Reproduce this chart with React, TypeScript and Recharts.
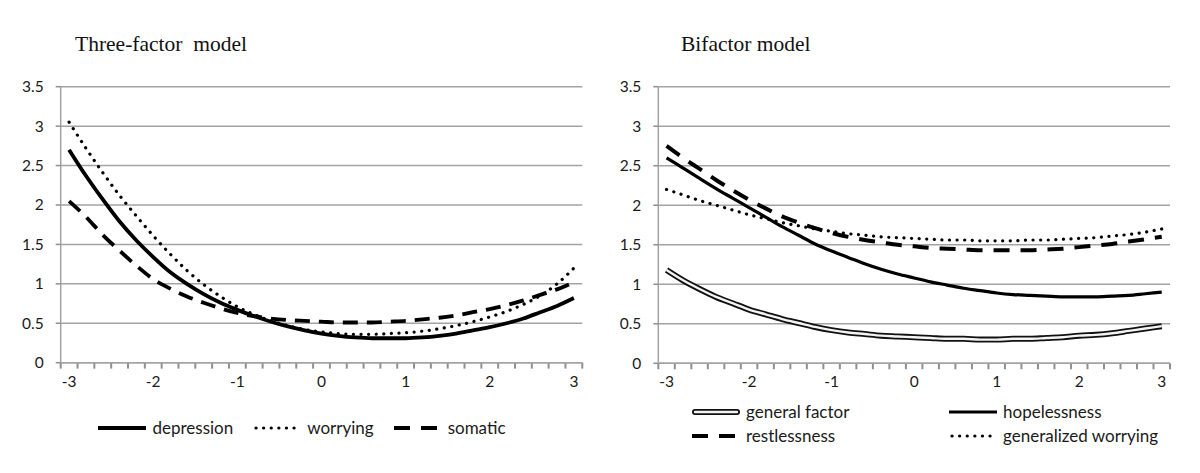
import React from "react";
import { LineChart, Line, XAxis, YAxis, CartesianGrid, Legend, ReferenceLine } from "recharts";

// theta points, one per 0.2 step (Excel category axis, 31 categories)
const thetas = [
  -3, -2.8, -2.6, -2.4, -2.2, -2, -1.8, -1.6, -1.4, -1.2, -1, -0.8, -0.6, -0.4, -0.2, 0,
  0.2, 0.4, 0.6, 0.8, 1, 1.2, 1.4, 1.6, 1.8, 2, 2.2, 2.4, 2.6, 2.8, 3,
];

// three-factor model
const depression = [
  2.7, 2.37, 2.07, 1.79, 1.55, 1.34, 1.15, 1.0, 0.87, 0.76, 0.67, 0.59, 0.52, 0.46, 0.41, 0.37,
  0.34, 0.32, 0.31, 0.31, 0.31, 0.32, 0.34, 0.37, 0.41, 0.45, 0.5, 0.56, 0.64, 0.72, 0.82,
];
const worrying = [
  3.05, 2.72, 2.41, 2.12, 1.86, 1.61, 1.38, 1.17, 0.99, 0.84, 0.71, 0.61, 0.53, 0.47, 0.42, 0.39,
  0.37, 0.36, 0.36, 0.37, 0.38, 0.4, 0.43, 0.47, 0.52, 0.58, 0.65, 0.74, 0.85, 1.0, 1.2,
];
const somatic = [
  2.05, 1.85, 1.62, 1.42, 1.23, 1.06, 0.94, 0.84, 0.76, 0.69, 0.63, 0.59, 0.56, 0.54, 0.53, 0.52,
  0.51, 0.51, 0.51, 0.52, 0.53, 0.55, 0.57, 0.6, 0.64, 0.68, 0.73, 0.79, 0.86, 0.93, 1.02,
];

// bifactor model
const generalFactor = [
  1.18, 1.05, 0.94, 0.84, 0.76, 0.68, 0.62, 0.56, 0.51, 0.46, 0.42, 0.39, 0.37, 0.35, 0.34, 0.33,
  0.32, 0.31, 0.31, 0.3, 0.3, 0.31, 0.31, 0.32, 0.33, 0.35, 0.36, 0.38, 0.41, 0.44, 0.47,
];
const hopelessness = [
  2.6, 2.47, 2.34, 2.21, 2.09, 1.97, 1.85, 1.73, 1.62, 1.51, 1.42, 1.34, 1.26, 1.19, 1.13, 1.08,
  1.03, 0.99, 0.95, 0.92, 0.89, 0.87, 0.86, 0.85, 0.84, 0.84, 0.84, 0.85, 0.86, 0.88, 0.9,
];
const restlessness = [
  2.75, 2.6, 2.46, 2.32, 2.19, 2.07, 1.96, 1.86, 1.78, 1.71, 1.65, 1.6, 1.56, 1.53, 1.5, 1.48,
  1.46, 1.45, 1.44, 1.43, 1.43, 1.43, 1.43, 1.44, 1.45, 1.47, 1.49, 1.51, 1.54, 1.57, 1.6,
];
const generalizedWorrying = [
  2.2, 2.13, 2.06, 2.0, 1.94, 1.88, 1.83, 1.78, 1.74, 1.7, 1.67, 1.64, 1.62, 1.6, 1.59, 1.58,
  1.57, 1.56, 1.56, 1.55, 1.55, 1.55, 1.56, 1.56, 1.57, 1.58, 1.59, 1.61, 1.63, 1.66, 1.7,
];

const yTicks = [0, 0.5, 1, 1.5, 2, 2.5, 3, 3.5];
// tick marks sit between categories, like Excel; labels every 5th category
const xMarkTicks = [
  -3.1, -2.9, -2.7, -2.5, -2.3, -2.1, -1.9, -1.7, -1.5, -1.3, -1.1, -0.9, -0.7, -0.5, -0.3, -0.1,
  0.1, 0.3, 0.5, 0.7, 0.9, 1.1, 1.3, 1.5, 1.7, 1.9, 2.1, 2.3, 2.5, 2.7, 2.9, 3.1,
];

const threeData = thetas.map((x, i) => ({
  x,
  depression: depression[i],
  worrying: worrying[i],
  somatic: somatic[i],
}));

const biData = thetas.map((x, i) => ({
  x,
  general: generalFactor[i],
  hopelessness: hopelessness[i],
  restlessness: restlessness[i],
  genWorrying: generalizedWorrying[i],
}));

const GRID = "#a3a3a3";
const MARK = "#8f8f8f";
const TEXT = "#1a1a1a";
const SANS = "Lato, 'Noto Sans', sans-serif";
const tickStyle = { fill: TEXT, fontSize: 15.5, fontFamily: SANS };

const DOTTED = { strokeDasharray: "0.1 7.5", strokeLinecap: "round" as const };
const DASHED = { strokeDasharray: "15 9" };

// label in the middle of every 5th category
function XTick(props: any) {
  const { x, y, payload, width } = props;
  const center = payload.value + 0.1;
  const half = width / (xMarkTicks.length - 1) / 2;
  const labelled = Math.abs(center - Math.round(center)) < 1e-6 && center < 3.05;
  if (!labelled) return <g />;
  return (
    <text x={x + half} y={y} dy="0.71em" textAnchor="middle" {...tickStyle}>
      {Math.round(center)}
    </text>
  );
}

// short marks below the axis at each category boundary
const tickMarks = () =>
  xMarkTicks.map((b) => (
    <ReferenceLine
      key={b}
      segment={[{ x: b, y: 0 }, { x: b, y: -0.075 }]}
      stroke={MARK}
      strokeWidth={2}
      ifOverflow="visible"
    />
  ));

function Sample({ kind }: { kind: string }) {
  return (
    <svg width={48} height={12} style={{ display: "block" }}>
      {kind === "double" && <line x1={3} y1={6} x2={45} y2={6} stroke="#111" strokeWidth={6} strokeLinecap="round" />}
      {kind === "double" && <line x1={3} y1={6} x2={45} y2={6} stroke="#f4f4f4" strokeWidth={2.4} strokeLinecap="round" />}
      {kind === "solid" && <line x1={0} y1={6} x2={48} y2={6} stroke="#000" strokeWidth={3.8} />}
      {kind === "solidThin" && <line x1={0} y1={6} x2={48} y2={6} stroke="#000" strokeWidth={3} />}
      {kind === "dotted" && <line x1={3} y1={6} x2={48} y2={6} stroke="#000" strokeWidth={3.2} {...DOTTED} />}
      {kind === "dashed" && <line x1={0} y1={6} x2={48} y2={6} stroke="#000" strokeWidth={4} strokeDasharray="16 11" />}
    </svg>
  );
}

function Item({ kind, label }: { kind: string; label: string }) {
  return (
    <div style={{ display: "flex", alignItems: "center", gap: 6, fontFamily: SANS, fontSize: 17, color: TEXT }}>
      <Sample kind={kind} />
      <span>{label}</span>
    </div>
  );
}

function ThreeLegend() {
  return (
    <div style={{ display: "flex", justifyContent: "center", gap: 20 }}>
      <Item kind="solid" label="depression" />
      <Item kind="dotted" label="worrying" />
      <Item kind="dashed" label="somatic" />
    </div>
  );
}

function BiLegend() {
  return (
    <div style={{ display: "grid", gridTemplateColumns: "257px 257px", rowGap: 3 }}>
      <Item kind="double" label="general factor" />
      <Item kind="solidThin" label="hopelessness" />
      <Item kind="dashed" label="restlessness" />
      <Item kind="dotted" label="generalized worrying" />
    </div>
  );
}

export default function App() {
  const titleStyle: React.CSSProperties = {
    position: "absolute",
    top: 33,
    fontFamily: "'Liberation Serif', 'Times New Roman', serif",
    fontSize: 21.5,
    lineHeight: "22px",
    color: "#111",
    whiteSpace: "pre",
  };
  return (
    <div style={{ position: "absolute", left: 0, top: 0, width: 1200, height: 473, background: "#fff", overflow: "hidden" }}>
      <div style={{ ...titleStyle, left: 75 }}>Three-factor  model</div>
      <div style={{ ...titleStyle, left: 681 }}>Bifactor model</div>

      <div style={{ position: "absolute", left: 0, top: 0 }}>
        <LineChart width={600} height={473} data={threeData} margin={{ top: 86.7, right: 17.7, bottom: 80.3, left: 10.7 }}>
          <CartesianGrid vertical={false} stroke={GRID} strokeWidth={1.5} />
          <XAxis type="number" dataKey="x" domain={[-3.1, 3.1]} ticks={xMarkTicks} interval={0}
            tick={<XTick />} tickLine={false} tickSize={5} tickMargin={8} height={30} stroke={GRID} strokeWidth={1.5} />
          <YAxis type="number" domain={[0, 3.5]} ticks={yTicks} interval={0} width={50} tickSize={5} tickMargin={12}
            stroke={GRID} strokeWidth={1.5} tickLine={{ stroke: MARK, strokeWidth: 1.5 }} tick={tickStyle} />
          {tickMarks()}
          <Line type="monotone" dataKey="depression" stroke="#000" strokeWidth={3.8} dot={false} isAnimationActive={false} />
          <Line type="monotone" dataKey="worrying" stroke="#000" strokeWidth={3.2} {...DOTTED} dot={false} isAnimationActive={false} />
          <Line type="monotone" dataKey="somatic" stroke="#000" strokeWidth={3.8} {...DASHED} dot={false} isAnimationActive={false} />
          <Legend verticalAlign="middle" align="center" layout="horizontal" wrapperStyle={{ top: 417, left: 2, width: 600 }} content={() => <ThreeLegend />} />
        </LineChart>
      </div>

      <div style={{ position: "absolute", left: 600, top: 0 }}>
        <LineChart width={600} height={473} data={biData} margin={{ top: 86.7, right: 30, bottom: 79.7, left: 8.3 }}>
          <CartesianGrid vertical={false} stroke={GRID} strokeWidth={1.5} />
          <XAxis type="number" dataKey="x" domain={[-3.1, 3.1]} ticks={xMarkTicks} interval={0}
            tick={<XTick />} tickLine={false} tickSize={5} tickMargin={8} height={30} stroke={GRID} strokeWidth={1.5} />
          <YAxis type="number" domain={[0, 3.5]} ticks={yTicks} interval={0} width={50} tickSize={5} tickMargin={12}
            stroke={GRID} strokeWidth={1.5} tickLine={{ stroke: MARK, strokeWidth: 1.5 }} tick={tickStyle} />
          {tickMarks()}
          <Line type="monotone" dataKey="general" stroke="#111" strokeWidth={6} dot={false} isAnimationActive={false} />
          <Line type="monotone" dataKey="general" stroke="#f4f4f4" strokeWidth={2.4} dot={false} legendType="none" isAnimationActive={false} />
          <Line type="monotone" dataKey="hopelessness" stroke="#000" strokeWidth={3.2} dot={false} isAnimationActive={false} />
          <Line type="monotone" dataKey="restlessness" stroke="#000" strokeWidth={4} strokeDasharray="16 11" dot={false} isAnimationActive={false} />
          <Line type="monotone" dataKey="genWorrying" stroke="#000" strokeWidth={3.2} {...DOTTED} dot={false} isAnimationActive={false} />
          <Legend verticalAlign="middle" align="center" layout="horizontal" wrapperStyle={{ top: 401, left: 92, width: 520 }} content={() => <BiLegend />} />
        </LineChart>
      </div>
    </div>
  );
}
